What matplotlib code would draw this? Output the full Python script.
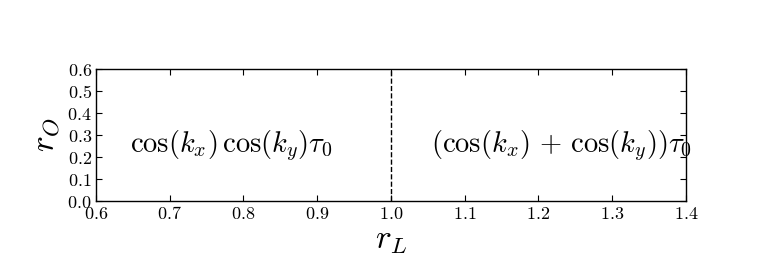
import matplotlib
matplotlib.use("Agg")
import matplotlib.pyplot as plt

plt.rcParams['mathtext.fontset'] = 'cm'
plt.rcParams['font.family'] = ['DejaVu Sans']

x_ticks = [0.6, 0.7, 0.8, 0.9, 1.0, 1.1, 1.2, 1.3, 1.4]
y_ticks = [0.0, 0.1, 0.2, 0.3, 0.4, 0.5, 0.6]
x_tick_labels = ['0.6', '0.7', '0.8', '0.9', '1.0', '1.1', '1.2', '1.3', '1.4']
y_tick_labels = ['0.0', '0.1', '0.2', '0.3', '0.4', '0.5', '0.6']
boundary_x = 1.0
region_labels = [r'$\cos(k_x)\,\cos(k_y)\tau_0$', r'$(\cos(k_x)\,+\,\cos(k_y))\tau_0$']
region_label_x = [0.784, 1.231]
region_label_y = [0.25, 0.25]

fig = plt.figure(figsize=(7.62, 2.72), dpi=100)
ax = fig.add_axes([0.126, 0.261, 0.774, 0.485])
ax.set_xlim(0.6, 1.4)
ax.set_ylim(0.0, 0.6)
ax.axvline(boundary_x, color='black', linestyle='--', linewidth=1.0)
ax.text(region_label_x[0], region_label_y[0], region_labels[0], fontsize=20.5, ha='center', va='center')
ax.text(region_label_x[1], region_label_y[1], region_labels[1], fontsize=20.5, ha='center', va='center')
ax.set_xticks(x_ticks)
ax.set_xticklabels(['$' + s + '$' for s in x_tick_labels], fontsize=13)
ax.set_yticks(y_ticks)
ax.set_yticklabels(['$' + s + '$' for s in y_tick_labels], fontsize=13)
ax.tick_params(direction='in', top=True, right=True, length=4, width=0.8, pad=3)
ax.set_xlabel(r'$r_L$', fontsize=24, labelpad=0)
ax.set_ylabel(r'$r_O$', fontsize=24, labelpad=4)
for s in ax.spines.values():
    s.set_linewidth(1.0)
fig.savefig('out.png', dpi=100)
